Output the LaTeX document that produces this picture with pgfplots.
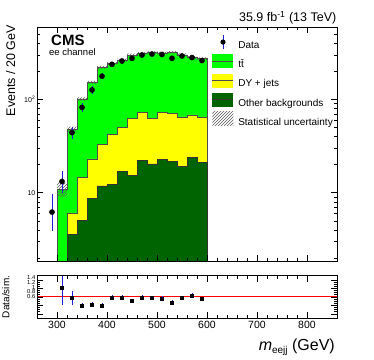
\documentclass[border=0pt]{standalone}
\usepackage{fontspec}
\setmainfont{Liberation Sans}
\usepackage{pgfplots}
\pgfplotsset{compat=1.18}
\usetikzlibrary{patterns}

\definecolor{ttgreen}{RGB}{0,255,0}
\definecolor{dyyellow}{RGB}{255,255,0}
\definecolor{othgreen}{RGB}{0,100,0}
\definecolor{errblue}{RGB}{30,30,220}

% bin left edges, last row repeats the final bin
\pgfplotstableread{
x y
300 10.9
320 48
340 101
360 152
380 220
400 243
420 263
440 298
460 311
480 316
500 314
520 318
540 300
560 280
580 272
600 272
}\total
\pgfplotstableread{
x y
320 6.1
340 14.5
360 23
380 33
400 42
420 50
440 63
460 72
480 62
500 72
520 71
540 65
560 68
580 65
600 65
}\dytop
\pgfplotstableread{
x y
320 3.6
340 5.1
360 8.7
380 11.8
400 12.3
420 16.8
440 15.4
460 22.4
480 20.3
500 22.8
520 21.5
540 19.0
560 23.7
580 21.0
600 21.0
}\other
\pgfplotstableread{
x y ep em
290 6.2 3.4 2.3
310 13.2 3.8 3.3
330 44 6.6 6.6
350 82 9.1 9.1
370 126 11.2 11.2
390 177 13.3 13.3
410 237 15.4 15.4
430 257 16 16
450 275 16.6 16.6
470 298 17.3 17.3
490 305 17.5 17.5
510 302 17.4 17.4
530 275 16.6 16.6
550 291 17.1 17.1
570 280 16.7 16.7
590 260 16.1 16.1
}\data
\pgfplotstableread{
x y e
310 1.22 0.42
330 0.98 0.17
350 0.79 0.06
370 0.82 0.05
390 0.80 0.045
410 0.99 0.05
430 0.99 0.05
450 0.90 0.045
470 0.99 0.05
490 0.98 0.05
510 0.96 0.05
530 0.87 0.045
550 0.97 0.05
570 1.03 0.05
590 0.95 0.05
}\ratio

\pgfplotsset{
  cmsframe/.style={
    scale only axis, width=300pt,
    xmin=260, xmax=860,
    xtick={300,400,...,800}, minor x tick num=4,
    axis on top,
    major tick length=6pt, minor tick length=3pt,
    tick style={black, line width=0.5pt},
    axis line style={line width=0.6pt},
    /pgf/number format/assume math mode=true,
  },
}

\begin{document}
\begin{tikzpicture}
\useasboundingbox (0pt,0pt) rectangle (374pt,359pt);

\begin{axis}[cmsframe,
  at={(37pt,98pt)}, anchor=south west, height=234pt,
  ymode=log, ymin=1.857, ymax=595,
  xticklabels={},
  ytick={10,100}, yticklabels={10,10\textsuperscript{2}},
  minor ytick={2,3,4,5,6,7,8,9,20,30,40,50,60,70,80,90,200,300,400,500},
  yticklabel style={font=\fontsize{7}{8}\selectfont, inner sep=1.5pt},
  legend style={at={(0.5833,0.968)}, anchor=north west, draw=none, fill=none,
    inner sep=0pt, row sep=4.3pt, font=\fontsize{10}{12}\selectfont,
    nodes={inner xsep=4.5pt, inner ysep=0pt}},
  legend cell align=left,
]
\addplot[const plot, fill=ttgreen, draw=black!70, line width=0.5pt, forget plot]
  table[x=x, y=y] {\total} \closedcycle;
\addplot[const plot, fill=dyyellow, draw=black!70, line width=0.5pt, forget plot]
  table[x=x, y=y] {\dytop} \closedcycle;
\addplot[const plot, fill=othgreen, draw=black!80, line width=0.5pt, forget plot]
  table[x=x, y=y] {\other} \closedcycle;

% statistical uncertainty band: upper edge left to right, lower edge back
\addplot[pattern=north east lines, pattern color=black!65, draw=none, forget plot]
  coordinates {
  (300,12.8) (320,12.8) (320,51) (340,51) (340,105) (360,105) (360,158) (380,158)
  (380,228) (400,228) (400,252) (420,252) (420,272) (440,272) (440,308) (460,308)
  (460,321) (480,321) (480,326) (500,326) (500,324) (520,324) (520,328) (540,328)
  (540,310) (560,310) (560,290) (580,290) (580,281) (600,281)
  (600,263) (580,263) (580,270) (560,270) (560,290) (540,290) (540,308) (520,308)
  (520,304) (500,304) (500,306) (480,306) (480,301) (460,301) (460,288) (440,288)
  (440,254) (420,254) (420,234) (400,234) (400,212) (380,212) (380,146) (360,146)
  (360,97) (340,97) (340,44) (320,44) (320,9.1) (300,9.1)
  } -- cycle;

\addplot[only marks, mark=*, mark size=2.6pt, black, forget plot,
  error bars/.cd, y dir=both, y explicit, error mark=none,
  error bar style={errblue, line width=0.8pt}]
  table[x=x, y=y, y error plus=ep, y error minus=em] {\data};

\addlegendimage{legend image code/.code={
  \path[draw=none, fill=none] (0pt,-3.5pt) rectangle (21pt,10.5pt);
  \draw[errblue, line width=0.8pt] (10.5pt,-3.5pt) -- (10.5pt,10.5pt);
  \fill[black, draw=none] (10.5pt,3.5pt) circle (2.6pt);}}
\addlegendentry{Data}
\addlegendimage{legend image code/.code={
  \fill[ttgreen, draw=none] (0pt,-3.5pt) rectangle (21pt,10.5pt);
  \draw[black!70, line width=0.6pt] (0pt,3.5pt) -- (21pt,3.5pt);}}
\addlegendentry{t\={t}}
\addlegendimage{legend image code/.code={
  \fill[dyyellow, draw=none] (0pt,-3.5pt) rectangle (21pt,10.5pt);
  \draw[black!70, line width=0.6pt] (0pt,3.5pt) -- (21pt,3.5pt);}}
\addlegendentry{DY + jets}
\addlegendimage{legend image code/.code={
  \fill[othgreen, draw=none] (0pt,-3.5pt) rectangle (21pt,10.5pt);
  \draw[black!80, line width=0.6pt] (0pt,3.5pt) -- (21pt,3.5pt);}}
\addlegendentry{Other backgrounds}
\addlegendimage{legend image code/.code={
  \fill[pattern=north east lines, pattern color=black!65, draw=none] (0pt,-3.5pt) rectangle (21pt,10.5pt);}}
\addlegendentry{Statistical uncertainty}
\end{axis}

\begin{axis}[cmsframe,
  at={(37pt,41pt)}, anchor=south west, height=42.3pt,
  ymin=0.5, ymax=1.5,
  ytick={0.6,0.8,1,1.2,1.4}, yticklabels={},
  minor y tick num=3,
  extra y ticks={1.01,1.12,1.23,1.34,1.45},
  extra y tick labels={0.6,0.8,1,1.2,1.4},
  extra y tick style={tick style={draw=none},
    yticklabel style={font=\fontsize{5.8}{6}\selectfont, inner xsep=1.5pt, inner ysep=0pt}},
  xticklabel style={font=\fontsize{10.5}{12}\selectfont},
]
\addplot[red, line width=1.1pt] coordinates {(260,1) (860,1)};
\addplot[only marks, mark=square*, mark size=1.5pt, black,
  error bars/.cd, y dir=both, y explicit, error mark=none,
  error bar style={errblue, line width=0.8pt}]
  table[x=x, y=y, y error=e] {\ratio};
\end{axis}

\node[anchor=base east, inner sep=0pt, font=\fontsize{12.5}{14}\selectfont]
  at (336.5pt,337.5pt) {35.9 fb\textsuperscript{-1} (13 TeV)};
\node[anchor=base west, inner sep=0pt, font=\bfseries\fontsize{15}{17}\selectfont]
  at (51pt,313.5pt) {CMS};
\node[anchor=base west, inner sep=0pt, font=\fontsize{9.5}{11}\selectfont]
  at (49pt,303pt) {ee channel};
\node[rotate=90, anchor=base east, inner sep=0pt, font=\fontsize{12.5}{14}\selectfont]
  at (15pt,334pt) {Events / 20 GeV};
\node[rotate=90, anchor=base, inner sep=0pt, font=\fontsize{10}{12}\selectfont]
  at (9.3pt,62pt) {Data/sim.};
\node[anchor=base east, inner sep=0pt, font=\fontsize{16}{18}\selectfont]
  at (335pt,9pt) {\textit{m}\raisebox{-0.4ex}{\fontsize{10}{11}\selectfont eejj} (GeV)};
\end{tikzpicture}
\end{document}
